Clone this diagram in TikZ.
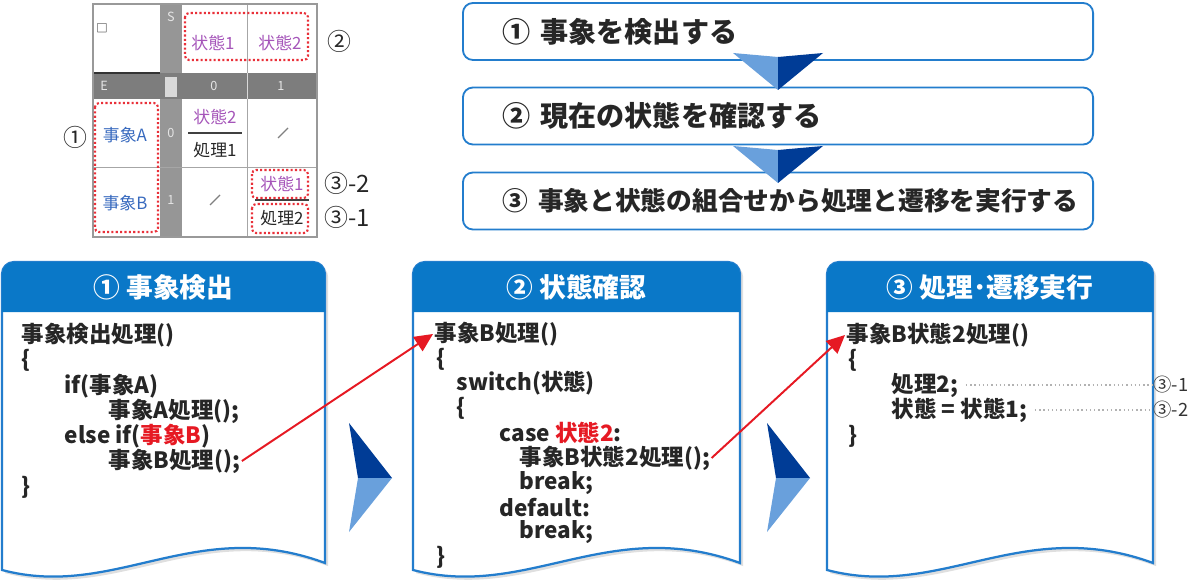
\documentclass[tikz,border=0pt]{standalone}
\usepackage{fontspec}
\setmainfont{Noto Sans CJK JP}
\usetikzlibrary{arrows.meta}
\usetikzlibrary{shadows}

\definecolor{boxblue}{RGB}{35,125,205}
\definecolor{hdrblue}{RGB}{10,120,200}
\definecolor{chevdark}{RGB}{0,60,150}
\definecolor{chevlight}{RGB}{105,160,220}
\definecolor{codered}{RGB}{230,25,35}
\definecolor{tgray}{RGB}{150,150,150}
\definecolor{tdark}{RGB}{125,125,125}
\definecolor{tpurple}{RGB}{165,85,185}
\definecolor{tblue}{RGB}{55,105,190}

\tikzset{
  flowbox/.style={draw=boxblue, line width=1.3pt, rounded corners=0.25cm, fill=white,
    text width=13.75cm, inner xsep=1cm, minimum height=1.425cm, align=left,
    font=\fontsize{20}{24}\selectfont\bfseries, text=black!85},
  code/.style={anchor=west, inner sep=1pt, font=\fontsize{16}{19}\selectfont\bfseries, text=black!85},
  hdr/.style={text=white, font=\fontsize{19}{22}\selectfont\bfseries},
  cell/.style={font=\fontsize{12}{14}\selectfont, inner sep=1pt},
  headlbl/.style={font=\fontsize{9}{10}\selectfont, text=white!80!gray, inner sep=0pt},
  tagnum/.style={font=\fontsize{17}{20}\selectfont, text=black!85, inner sep=1pt},
  smalltag/.style={anchor=west, inner sep=1pt, font=\fontsize{13}{15}\selectfont, text=black!80},
  reddots/.style={codered!90, line width=1.5pt, dash pattern=on 1.5pt off 1.6pt, rounded corners=0.1cm},
  redarrow/.style={codered, line width=1.4pt, -{Triangle[length=13pt,width=12pt]}},
  doc/.style={draw=boxblue, line width=1.6pt, fill=white,
    drop shadow={opacity=0.25, shadow xshift=0.8mm, shadow yshift=-0.8mm}},
}

\begin{document}
\begin{tikzpicture}[x=0.025cm, y=-0.025cm]
\useasboundingbox (0,0) rectangle (1200,583);

% state table
\fill[tgray] (160,4) rectangle (182,237);
\fill[tdark] (93,73) rectangle (317,99);
\fill[gray!30] (165,77) rectangle (177,97);
\draw[gray!70, line width=0.6pt] (247,4) -- (247,237);
\draw[gray!70, line width=0.6pt] (93,167) -- (317,167);
\draw[gray!30, line width=0.6pt] (247,73) -- (247,99);
\draw[black!80, line width=1pt] (93,73) -- (160,73);
\draw[gray!80, line width=1.2pt] (93,4) rectangle (317,237);

\node[font=\fontsize{8}{9}\selectfont, inner sep=0pt] (sq) at (102,28) {□};
\node[headlbl] (hS) at (171,17) {S};
\node[headlbl] (hE) at (104,86) {E};
\node[headlbl] (h0) at (214,86) {0};
\node[headlbl] (h1) at (281,86) {1};
\node[headlbl] (r0) at (171,133) {0};
\node[headlbl] (r1) at (171,200) {1};

\node[cell, text=tpurple] (st1) at (213,43) {状態1};
\node[cell, text=tpurple] (st2) at (280,43) {状態2};
\node[cell, text=tblue] (evA) at (125,135) {事象A};
\node[cell, text=tblue] (evB) at (125,203) {事象B};

\node[cell, text=tpurple] (c11) at (215,117) {状態2};
\draw[black!75, line width=0.8pt] (188,133) -- (242,133);
\node[cell, text=black!85] (c12) at (215,150) {処理1};
\draw[gray, line width=0.8pt] (278,138) -- (288,128);
\draw[gray, line width=0.8pt] (210,205) -- (220,195);
\node[cell, text=tpurple] (c21) at (282,184) {状態1};
\draw[black!75, line width=0.8pt] (255,200) -- (309,200);
\node[cell, text=black!85] (c22) at (282,218) {処理2};

\draw[reddots] (185,13) rectangle (308,60);
\draw[reddots] (95,103) rectangle (158,232);
\draw[reddots] (252,170) rectangle (308,198);
\draw[reddots] (252,204) rectangle (308,233);

\node[tagnum] (lb1) at (75,137) {①};
\node[tagnum] (lb2) at (339,41) {②};
\node[tagnum, anchor=west] (lb32) at (323,183) {③-2};
\node[tagnum, anchor=west] (lb31) at (323,217) {③-1};

% flow of the three steps
\node[flowbox] (f1) at (778,31.5) {① 事象を検出する};
\node[flowbox] (f2) at (778,116) {② 現在の状態を確認する};
\node[flowbox] (f3) at (778,201) {\mbox{\fontsize{18.3}{22}\selectfont ③ 事象と状態の組合せから処理と遷移を実行する}};

\foreach \dy in {0,93} {
  \fill[chevlight] (733,53+\dy) -- (778,57+\dy) -- (778,90+\dy) -- cycle;
  \fill[chevdark] (778,57+\dy) -- (823,53+\dy) -- (778,90+\dy) -- cycle;
}

% code sheets
\foreach \xl/\xr/\nm/\ttl in {2/325/p1/{① 事象検出},413/740/p2/{② 状態確認},827/1153/p3/{③ 処理･遷移実行}} {
  \pgfmathsetmacro{\ca}{\xl+0.6*(\xr-\xl)}
  \pgfmathsetmacro{\cb}{\xl+0.35*(\xr-\xl)}
  \draw[doc] (\xl,570) -- (\xl,274) arc[start angle=180, end angle=270, radius=12]
    -- ({\xr-12},262) arc[start angle=270, end angle=360, radius=12]
    -- (\xr,563) .. controls (\ca,515) and (\cb,600) .. (\xl,570) -- cycle;
  \fill[hdrblue] (\xl,312) -- (\xl,274) arc[start angle=180, end angle=270, radius=12]
    -- ({\xr-12},262) arc[start angle=270, end angle=360, radius=12] -- (\xr,312) -- cycle;
  \node[hdr] (h\nm) at ({(\xl+\xr)/2},287) {\ttl};
}

\foreach \dx in {0,418} {
  \fill[chevdark] (349+\dx,423) -- (392+\dx,478) -- (358+\dx,478) -- cycle;
  \fill[chevlight] (358+\dx,478) -- (392+\dx,478) -- (349+\dx,532) -- cycle;
}

\node[code] (a1) at (20,335) {事象検出処理()};
\node[code] (a2) at (20,360) {\{};
\node[code] (a3) at (63,386) {if(事象A)};
\node[code] (a4) at (107,411) {事象A処理();};
\node[code] (a5) at (63,436) {else if(\textcolor{codered}{事象B})};
\node[code] (a6) at (107,461) {事象B処理();};
\node[code] (a7) at (20,487) {\}};

\node[code] (b1) at (433,334) {事象B処理()};
\node[code] (b2) at (435,359) {\{};
\node[code] (b3) at (455,383) {switch(状態)};
\node[code] (b4) at (455,408) {\{};
\node[code] (b5) at (498,433) {case \textcolor{codered}{状態2}:};
\node[code] (b6) at (518,458) {事象B状態2処理();};
\node[code] (b7) at (518,483) {break;};
\node[code] (b8) at (498,508) {default:};
\node[code] (b9) at (518,532) {break;};
\node[code] (b10) at (435,557) {\}};

\node[code] (c1) at (845,335) {事象B状態2処理()};
\node[code] (c2) at (847,360) {\{};
\node[code] (c3) at (890,385) {処理2;};
\node[code] (c4) at (890,410) {状態 = 状態1;};
\node[code] (c5) at (847,436) {\}};

\node[smalltag] (n31) at (1152,385) {③-1};
\node[smalltag] (n32) at (1152,410) {③-2};
\draw[gray!60, line width=1pt, dotted] (c3.east) ++(6,0) -- (n31.west);
\draw[gray!60, line width=1pt, dotted] (c4.east) ++(6,0) -- (n32.west);

\draw[redarrow] (a6.east) -- (b1.west);
\draw[redarrow] (b6.east) -- (c1.west);
\end{tikzpicture}
\end{document}
